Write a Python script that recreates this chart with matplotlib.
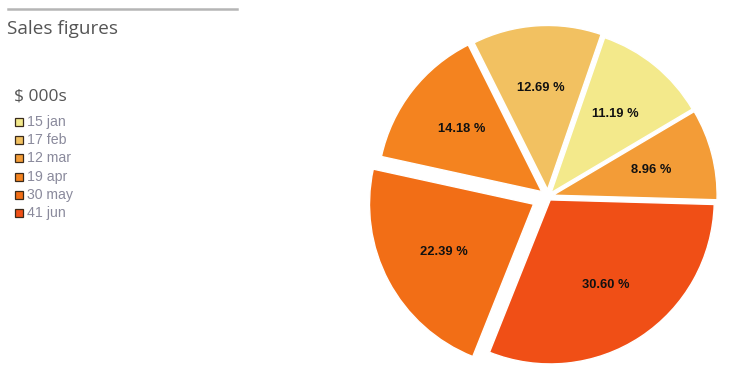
import matplotlib
matplotlib.use("Agg")
import matplotlib.pyplot as plt
from matplotlib import font_manager as fm
from matplotlib.patches import Rectangle
from matplotlib.lines import Line2D

# ---- data ----
months = ["jan", "feb", "mar", "apr", "may", "jun"]
values = [15, 17, 12, 19, 30, 41]
colors = ["#f3e98b", "#f2c161", "#f39c37", "#f4831f", "#f26e16", "#f04f16"]
# slice drawing order (clockwise) as seen in the chart
slice_order = ["jan", "mar", "jun", "may", "apr", "feb"]
explode_by_month = {"jan": 0.030, "mar": 0.032, "jun": 0.025, "may": 0.100, "apr": 0.049, "feb": 0.043}
title = "Sales figures"
unit_label = "$ 000s"


def has_font(name):
    try:
        fm.findfont(fm.FontProperties(family=name), fallback_to_default=False)
        return True
    except Exception:
        return False


narrow = "Liberation Sans Narrow" if has_font("Liberation Sans Narrow") else "Liberation Sans"
pct_size = 10 if narrow == "Liberation Sans Narrow" else 9.3

W, H = 734, 379
DPI = 100
fig = plt.figure(figsize=(W / DPI, H / DPI), dpi=DPI)

# pie axes covering the full figure; 1 data unit = R pixels
R = 164.0
cx, cy = 548.0, 196.5  # pie centre in pixels (from top-left)
ax = fig.add_axes([0, 0, 1, 1])
idx = [months.index(m) for m in slice_order]
vals = [values[i] for i in idx]
cols = [colors[i] for i in idx]
expl = [explode_by_month[m] for m in slice_order]

startangle = 70.94  # jan slice begins here, slices run clockwise

wedges, texts, autotexts = ax.pie(
    vals, colors=cols, explode=expl, startangle=startangle, counterclock=False,
    radius=1.0, autopct=lambda p: f"{p:.2f} %", pctdistance=0.62,
    wedgeprops=dict(edgecolor="white", linewidth=1.0),
    textprops=dict(color="#111111", fontsize=pct_size, fontweight="bold", family=narrow),
)
ax.set_aspect("auto")
ax.set_xlim(-cx / R, (W - cx) / R)
ax.set_ylim(-(H - cy) / R, cy / R)
ax.axis("off")

# ---- left side: title, rule, unit and legend ----
fig.add_artist(Line2D([8 / W, 237 / W], [1 - 9 / H, 1 - 9 / H], color="#b5b5b5", linewidth=1.8))
fig.text(7 / W, 1 - 28.5 / H, title, fontsize=13.6, family="Open Sans", color="#555555",
         ha="left", va="center")
fig.text(14 / W, 1 - 96.5 / H, unit_label, fontsize=12.5, family="Open Sans", color="#555555",
         ha="left", va="center")

row_y = 122.0
row_step = 18.2
for i, (m, v, c) in enumerate(zip(months, values, colors)):
    y = row_y + i * row_step
    fig.add_artist(Rectangle((15 / W, 1 - (y + 4) / H), 8 / W, 8 / H, facecolor=c,
                             edgecolor="#3a2a1a", linewidth=0.9))
    fig.text(27 / W, 1 - y / H, f"{v} {m}", fontsize=10.2, family="Liberation Sans",
             color="#8a8a9c", ha="left", va="center")

fig.savefig("out.png", dpi=DPI)
